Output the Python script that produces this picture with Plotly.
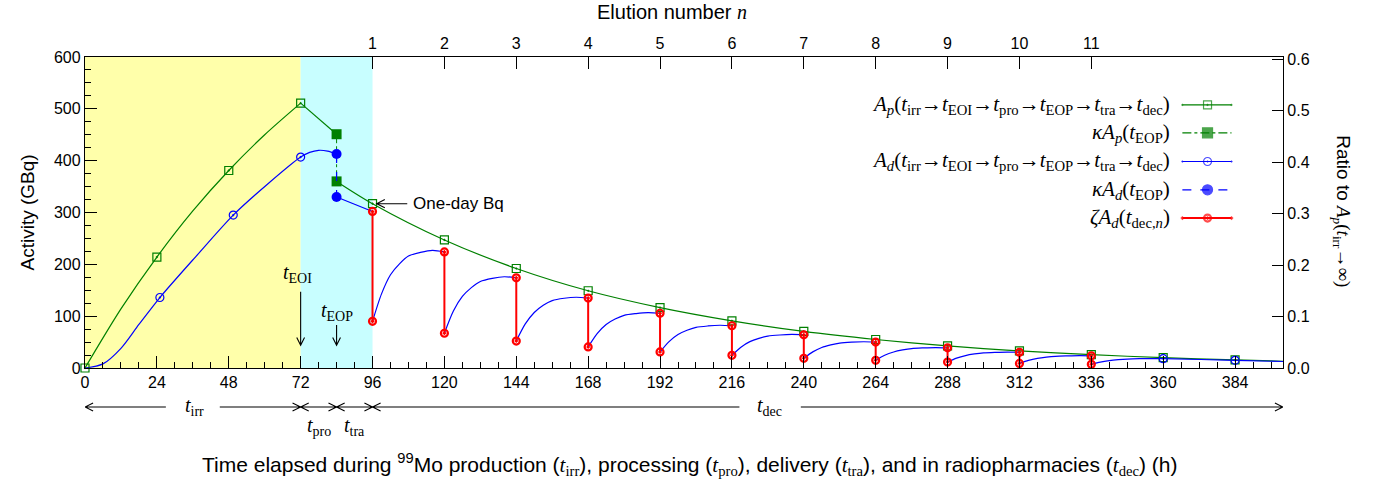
import plotly.graph_objects as go

# ---------------- data ----------------
# Mo-99 parent activity A_p (GBq)
ap_irr_h = [0, 12, 24, 36, 48, 60, 72]
ap_irr_v = [0, 114, 214, 303, 381, 450, 511]
ap_pro_h = [72, 84]
ap_pro_v = [511, 451]
ap_dec_h = [84, 96, 120, 144, 168, 192, 216, 240, 264, 288, 312, 336, 360, 384, 400]
ap_dec_v = [360, 317, 247, 192, 149, 116.5, 91, 70.5, 55, 42.5, 33, 25.7, 20, 15.5, 13]
ap_mark_h = [0, 24, 48, 72, 96, 120, 144, 168, 192, 216, 240, 264, 288, 312, 336, 360, 384]
ap_mark_v = [0, 214, 381, 511, 317, 247, 192, 149, 116.5, 91, 70.5, 55, 42.5, 33, 25.7, 20, 15.5]

# kappa * A(t_EOP) jumps
kap_h = [84, 84]
kap_v = [451, 360]
kad_h = [84, 84]
kad_v = [413, 330]

# Tc-99m daughter activity A_d (GBq)
ad_irr_h = [0, 6, 12, 18, 25, 37, 49.5, 61, 72, 75, 78, 81, 84]
ad_irr_v = [0, 8, 38, 84, 136, 215, 295, 355, 407, 416, 420, 418.5, 413]
ad_tra_h = [84, 90, 96]
ad_tra_v = [330, 316, 302]

elution_h = [96, 120, 144, 168, 192, 216, 240, 264, 288, 312, 336]
elution_n = [1, 2, 3, 4, 5, 6, 7, 8, 9, 10, 11]
zeta_top = [302, 224, 174, 135, 105.6, 81.5, 64, 50, 39, 30.3, 23.5]
zeta_bot = [90, 67, 52, 40.6, 31, 24.5, 18.7, 14.8, 11.5, 8.8, 7]

regrowth_tau = [0, 3, 6, 9, 12, 16, 20, 24]
ad_regrowth = [
    [90, 143, 180, 201, 216, 223, 227, 224],
    [67, 110, 138, 155, 167, 173, 176, 174],
    [52, 85, 107, 121, 130, 134.5, 136.5, 135],
    [40.6, 66.4, 84, 94.4, 101.6, 105, 106.8, 105.6],
    [31, 51, 64.6, 72.8, 78.3, 81.1, 82.5, 81.5],
    [24.5, 40.2, 50.9, 57.2, 61.5, 63.7, 64.7, 64],
    [18.7, 31.1, 39.6, 44.5, 48, 49.8, 50.6, 50],
    [14.8, 24.5, 30.9, 34.8, 37.5, 38.8, 39.5, 39],
    [11.5, 19, 24, 27.1, 29.2, 30.2, 30.7, 30.3],
    [8.8, 14.6, 18.5, 20.9, 22.5, 23.3, 23.8, 23.5],
]
ad_final_tau = [0, 3, 6, 9, 12, 16, 24, 48, 64]
ad_final_v = [7, 11.4, 14.3, 16.1, 17.3, 17.9, 17.9, 14.8, 12.5]
ad_mark_h = [25, 49.5, 72, 360, 384]
ad_mark_v = [136, 295, 407, 17.9, 14.8]

ap_saturation = 993  # GBq, A_p(t_irr -> inf), scale of the right axis

# ---------------- styling ----------------
SANS = "Liberation Sans, Arial, sans-serif"
SERIF = "Liberation Serif, Times New Roman, serif"
GREEN = "#008000"
BLUE = "#0000ff"
RED = "#ff0000"


def math(s):
    return f'<span style="font-family:{SERIF}">{s}</span>'


def tsub(s):
    return f"<i>t</i><sub>{s}</sub>"


chain = "→".join(tsub(s) for s in ["irr", "EOI", "pro", "EOP", "tra", "dec"])

fig = go.Figure()

# green A_p line (segments joined with gaps)
g_x = ap_irr_h + [None] + ap_pro_h + [None] + ap_dec_h
g_y = ap_irr_v + [None] + ap_pro_v + [None] + ap_dec_v
fig.add_trace(go.Scatter(x=g_x, y=g_y, mode="lines", line=dict(color=GREEN, width=1.2, shape="spline", smoothing=0.8),
                         connectgaps=False, hoverinfo="skip"))

# blue A_d line
b_x = ad_irr_h + [None] + ad_tra_h
b_y = ad_irr_v + [None] + ad_tra_v
for t0, seg in zip(elution_h, ad_regrowth):
    b_x += [None] + [t0 + tau for tau in regrowth_tau]
    b_y += [None] + seg
b_x += [None] + [elution_h[-1] + tau for tau in ad_final_tau]
b_y += [None] + ad_final_v
fig.add_trace(go.Scatter(x=b_x, y=b_y, mode="lines", line=dict(color=BLUE, width=1.2, shape="spline", smoothing=0.8),
                         connectgaps=False, hoverinfo="skip"))

# kappa jumps
fig.add_trace(go.Scatter(x=kap_h, y=kap_v, mode="lines+markers",
                         line=dict(color=GREEN, width=1, dash="dashdot"),
                         marker=dict(symbol="square", size=10, color=GREEN), hoverinfo="skip"))
fig.add_trace(go.Scatter(x=kad_h, y=kad_v, mode="lines+markers",
                         line=dict(color=BLUE, width=1.2, dash="dash"),
                         marker=dict(symbol="circle", size=10, color=BLUE), hoverinfo="skip"))

# green open markers
fig.add_trace(go.Scatter(x=ap_mark_h, y=ap_mark_v, mode="markers", cliponaxis=False,
                         marker=dict(symbol="square-open-dot", size=8, color=GREEN, line=dict(width=1.2, color=GREEN)),
                         hoverinfo="skip"))

# red zeta elution drops
r_x, r_y = [], []
for t0, top, bot in zip(elution_h, zeta_top, zeta_bot):
    r_x += [t0, t0, None]
    r_y += [top, bot, None]
fig.add_trace(go.Scatter(x=r_x, y=r_y, mode="lines+markers", connectgaps=False,
                         line=dict(color=RED, width=2),
                         marker=dict(symbol="circle-open-dot", size=7, color=RED, line=dict(width=2.2, color=RED)),
                         hoverinfo="skip"))

# blue open markers
fig.add_trace(go.Scatter(x=ad_mark_h, y=ad_mark_v, mode="markers",
                         marker=dict(symbol="circle-open-dot", size=8, color=BLUE, line=dict(width=1.2, color=BLUE)),
                         hoverinfo="skip"))

# invisible traces to carry the top (elution) and right (ratio) axes
fig.add_trace(go.Scatter(x=elution_h, y=zeta_top, xaxis="x2", yaxis="y", mode="markers",
                         marker=dict(opacity=0), hoverinfo="skip"))
fig.add_trace(go.Scatter(x=elution_h, y=[v / ap_saturation for v in zeta_top], xaxis="x", yaxis="y2",
                         mode="markers", marker=dict(opacity=0), hoverinfo="skip"))

# ---------------- manual legend (text right-aligned, sample to the right) ----------------
legend_rows = [
    (f"<i>A</i><sub><i>p</i></sub>({chain})", GREEN, "solid", "square-open-dot", 8),
    (f"<i>κA</i><sub><i>p</i></sub>({tsub('EOP')})", GREEN, "dashdot", "square", 10),
    (f"<i>A</i><sub><i>d</i></sub>({chain})", BLUE, "solid", "circle-open-dot", 8),
    (f"<i>κA</i><sub><i>d</i></sub>({tsub('EOP')})", BLUE, "dash", "circle", 10),
    (f"<i>ζA</i><sub><i>d</i></sub>(<i>t</i><sub>dec,<i>n</i></sub>)", RED, "solid", "circle-open-dot", 7),
]
row_y = [0.846, 0.756, 0.664, 0.573, 0.482]
annotations = []
for (label, col, dash, sym, sz), ry in zip(legend_rows, row_y):
    fig.add_trace(go.Scatter(x=[0.916, 0.937, 0.957], y=[ry, ry, ry], xaxis="x3", yaxis="y3",
                             mode="lines+markers", line=dict(color=col, width=1.2 if col != RED else 2, dash=dash),
                             marker=dict(symbol=sym, size=[0, sz, 0], color=col,
                                         line=dict(width=2.2 if col == RED else 1.2, color=col)),
                             hoverinfo="skip"))
    annotations.append(dict(xref="paper", yref="paper", x=0.907, y=ry, xanchor="right", yanchor="middle",
                            text=label, showarrow=False, font=dict(family=SERIF, size=21, color="black")))

# ---------------- text annotations ----------------
annotations += [
    dict(xref="paper", yref="paper", x=-0.0484, y=0.5, xanchor="center", yanchor="middle",
         text="Activity (GBq)", textangle=-90, showarrow=False, font=dict(family=SANS, size=19)),
    dict(xref="paper", yref="paper", x=1.049, y=0.505, xanchor="center", yanchor="middle", textangle=90,
         showarrow=False,
         text="Ratio to " + math(f"<i>A</i><sub><i>p</i></sub>(<i>t</i><sub>irr</sub>→∞)"),
         font=dict(family=SANS, size=19)),
    dict(xref="paper", yref="paper", x=0.49, y=1.1447, xanchor="center", yanchor="middle", showarrow=False,
         text="Elution number " + math("<i>n</i>"), font=dict(family=SANS, size=20)),
    dict(xref="paper", yref="paper", x=0.505, y=-0.31, xanchor="center", yanchor="middle", showarrow=False,
         text=("Time elapsed during <sup>99</sup>Mo production (" + math(tsub("irr")) + "), processing ("
               + math(tsub("pro")) + "), delivery (" + math(tsub("tra")) + "), and in radiopharmacies ("
               + math(tsub("dec")) + ") (h)"),
         font=dict(family=SANS, size=21)),
    dict(xref="x", yref="y", x=71, y=183, showarrow=False, text=tsub("EOI"),
         font=dict(family=SERIF, size=20)),
    dict(xref="x", yref="y", x=84, y=109, showarrow=False, text=tsub("EOP"),
         font=dict(family=SERIF, size=20)),
    dict(xref="x", yref="y", x=108.8, y=317, xanchor="left", showarrow=False, text="One-day Bq",
         font=dict(family=SANS, size=17)),
    dict(xref="x", yref="paper", x=36.5, y=-0.17, showarrow=False, text=tsub("irr"),
         font=dict(family=SERIF, size=20)),
    dict(xref="x", yref="paper", x=78, y=-0.235, showarrow=False, text=tsub("pro"),
         font=dict(family=SERIF, size=20)),
    dict(xref="x", yref="paper", x=90, y=-0.235, showarrow=False, text=tsub("tra"),
         font=dict(family=SERIF, size=20)),
    dict(xref="x", yref="paper", x=228.5, y=-0.17, showarrow=False, text=tsub("dec"),
         font=dict(family=SERIF, size=20)),
]

# ---------------- shapes: phase shading and arrows ----------------
shapes = [
    dict(type="rect", xref="x", yref="paper", x0=0, x1=72, y0=0, y1=1, fillcolor="#ffffaa", line=dict(width=0),
         layer="below"),
    dict(type="rect", xref="x", yref="paper", x0=72, x1=96, y0=0, y1=1, fillcolor="#c8feff", line=dict(width=0),
         layer="below"),
]

HX, HY = 2.7, 0.013  # arrowhead half-size (hours, paper)


def harrow(a, b, y, head_a=False, head_b=False):
    p = f"M {a},{y} L {b},{y}"
    if head_a:
        p += f" M {a + HX},{y + HY} L {a},{y} L {a + HX},{y - HY}"
    if head_b:
        p += f" M {b - HX},{y + HY} L {b},{y} L {b - HX},{y - HY}"
    return dict(type="path", xref="x", yref="paper", path=p, line=dict(color="black", width=1.1))


ya = -0.1254
shapes += [
    harrow(0, 27, ya, head_a=True),
    harrow(45, 72, ya, head_b=True),
    harrow(72, 84, ya, True, True),
    harrow(84, 96, ya, True, True),
    harrow(96, 218.5, ya, head_a=True),
    harrow(239, 400, ya, head_b=True),
]

VX, VY = 1.3, 15


def varrow(x, y0, y1):
    p = f"M {x},{y0} L {x},{y1} M {x - VX},{y1 + VY} L {x},{y1} L {x + VX},{y1 + VY}"
    return dict(type="path", xref="x", yref="y", path=p, line=dict(color="black", width=1.1))


shapes += [varrow(72, 147, 44), varrow(84, 83, 44)]
shapes.append(dict(type="path", xref="x", yref="y",
                   path=f"M 107.6,317 L 97.4,317 M {97.4 + 2.7},325 L 97.4,317 L {97.4 + 2.7},309",
                   line=dict(color="black", width=1.1)))

axis_common = dict(showgrid=False, zeroline=False, showline=True, linecolor="black", linewidth=1.3,
                   ticks="inside", tickcolor="black", tickwidth=1, tickfont=dict(family=SANS, size=16))

fig.update_layout(
    width=1380, height=480,
    margin=dict(l=85, r=97, t=57, b=112),
    plot_bgcolor="white", paper_bgcolor="white", showlegend=False,
    font=dict(family=SANS, size=16, color="black"),
    xaxis=dict(range=[0, 400], tickmode="linear", tick0=0, dtick=24, ticklen=12,
               minor=dict(ticks="inside", ticklen=6, tick0=0, dtick=6, tickcolor="black"), **axis_common),
    yaxis=dict(range=[0, 600], tickmode="linear", tick0=0, dtick=100, ticklen=12,
               minor=dict(ticks="inside", ticklen=6, tick0=0, dtick=25, tickcolor="black"), **axis_common),
    xaxis2=dict(overlaying="x", side="top", anchor="y", range=[0, 400], tickmode="array",
                tickvals=elution_h, ticktext=[str(n) for n in elution_n], ticklen=12, **axis_common),
    yaxis2=dict(overlaying="y", side="right", anchor="x", range=[0, 600 / ap_saturation], tickmode="linear",
                tick0=0, dtick=0.1, tickformat=".1f", ticklen=11, **axis_common),
    xaxis3=dict(overlaying="x", anchor="y3", range=[0, 1], visible=False),
    yaxis3=dict(overlaying="y", anchor="x3", range=[0, 1], visible=False),
    annotations=annotations,
    shapes=shapes,
)

fig.write_html("out.html")
